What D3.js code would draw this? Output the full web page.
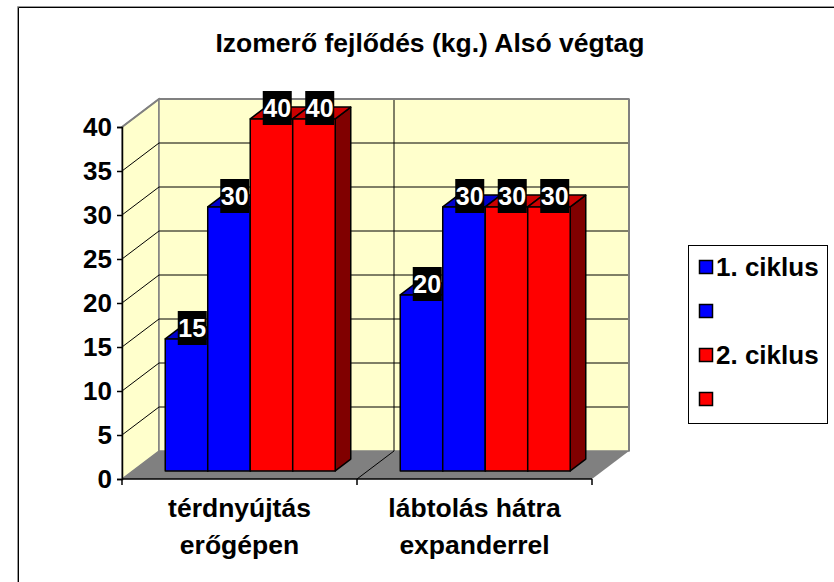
<!DOCTYPE html>
<html>
<head>
<meta charset="utf-8">
<script src="https://cdn.jsdelivr.net/npm/d3@7"></script>
<style>
  html, body { margin: 0; padding: 0; background: #fff; }
  svg { display: block; }
  text { font-family: "Liberation Sans", Arial, sans-serif; font-weight: bold; }
</style>
</head>
<body>
<svg id="chart" width="834" height="582"></svg>
<script>
// ---- data ----
const title = "Izomerő fejlődés (kg.) Alsó végtag";
const categories = [["térdnyújtás", "erőgépen"], ["lábtolás hátra", "expanderrel"]];
const seriesNames = ["1. ciklus", "", "2. ciklus", ""];
const seriesColors = ["#0000FF", "#0000FF", "#FF0000", "#FF0000"];
const seriesTop = ["#0000CC", "#0000CC", "#CC0000", "#CC0000"];
const seriesSide = ["#000080", "#000080", "#800000", "#800000"];
const values = [
  [15, 20],   // series 1
  [30, 30],   // series 2
  [40, 30],   // series 3
  [40, 30]    // series 4
];
const yTicks = [0, 5, 10, 15, 20, 25, 30, 35, 40];

// ---- layout ----
const svg = d3.select("#chart");
const W = 834, H = 582;
const pLeft = 122, pRight = 592, pBottom = 479, pTop = 127;
const depth = {dx: 37, dy: -28};           // full floor depth
const barZ0 = 0.29, barZ = 0.42;             // bar depth start/size (fraction)

const y = d3.scaleLinear().domain([0, 40]).range([pBottom, pTop]);
const x = d3.scaleBand().domain(d3.range(categories.length)).range([pLeft, pRight]).padding(0);
const xs = d3.scaleBand().domain(d3.range(values.length)).range([0, x.bandwidth()])
  .paddingInner(0).paddingOuter(0.765);

// outer border (top/left only visible)
svg.append("line").attr("x1", 17.5).attr("y1", 6.5).attr("x2", W).attr("y2", 6.5).attr("stroke", "#999").attr("stroke-width", 1);
svg.append("line").attr("x1", 17.5).attr("y1", 6.5).attr("x2", 17.5).attr("y2", H).attr("stroke", "#999").attr("stroke-width", 1);
svg.append("line").attr("x1", 18.5).attr("y1", 7.5).attr("x2", W).attr("y2", 7.5).attr("stroke", "#000").attr("stroke-width", 1);
svg.append("line").attr("x1", 18.5).attr("y1", 7.5).attr("x2", 18.5).attr("y2", H).attr("stroke", "#000").attr("stroke-width", 1);

// title
svg.append("text").attr("x", 430).attr("y", 52).attr("text-anchor", "middle")
  .attr("font-size", 26.5).attr("fill", "#000").text(title);

const wall = "#FFFFCC", floorCol = "#808080";
const bx0 = pLeft + depth.dx, bx1 = pRight + depth.dx;
const by0 = y(0) + depth.dy, by1 = y(40) + depth.dy;

// side wall
svg.append("path")
  .attr("d", `M${pLeft},${y(0)}L${pLeft},${y(40)}L${bx0},${by1}L${bx0},${by0}Z`)
  .attr("fill", wall).attr("stroke", "#808080").attr("stroke-width", 1.5);
// back wall
svg.append("rect").attr("x", bx0).attr("y", by1).attr("width", bx1 - bx0).attr("height", by0 - by1)
  .attr("fill", wall).attr("stroke", "#808080").attr("stroke-width", 1.5);

// gridlines
const grid = svg.append("g").attr("stroke", "#000").attr("stroke-width", 1);
yTicks.filter(t => t > 0 && t < 40).forEach(t => {
  grid.append("line").attr("x1", pLeft).attr("y1", y(t)).attr("x2", bx0).attr("y2", y(t) + depth.dy);
  grid.append("line").attr("x1", bx0).attr("y1", y(t) + depth.dy).attr("x2", bx1).attr("y2", y(t) + depth.dy);
});
// vertical category divider on back wall
d3.range(1, categories.length).forEach(i => {
  const xx = x(i) + depth.dx;
  grid.append("line").attr("x1", xx).attr("y1", by0).attr("x2", xx).attr("y2", by1);
});
// top edges gray
svg.append("line").attr("x1", pLeft).attr("y1", y(40)).attr("x2", bx0).attr("y2", by1).attr("stroke", "#808080").attr("stroke-width", 2);
svg.append("line").attr("x1", bx0).attr("y1", by1).attr("x2", bx1).attr("y2", by1).attr("stroke", "#808080").attr("stroke-width", 2);
svg.append("line").attr("x1", bx1).attr("y1", by1).attr("x2", bx1).attr("y2", by0).attr("stroke", "#808080").attr("stroke-width", 2);

// floor
svg.append("path")
  .attr("d", `M${pLeft},${y(0)}L${pRight},${y(0)}L${bx1},${by0}L${bx0},${by0}Z`)
  .attr("fill", floorCol).attr("stroke", "none");
d3.range(1, categories.length).forEach(i => {
  svg.append("line").attr("x1", x(i)).attr("y1", y(0)).attr("x2", x(i) + depth.dx).attr("y2", by0)
    .attr("stroke", "#000").attr("stroke-width", 1);
});

// axes
const yAxisG = svg.append("g").attr("transform", `translate(${pLeft},0)`)
  .call(d3.axisLeft(y).tickValues(yTicks).tickSize(5).tickPadding(5));
yAxisG.select(".domain").attr("stroke", "#000").attr("stroke-width", 1.5);
yAxisG.selectAll(".tick line").attr("stroke", "#000").attr("stroke-width", 1.5);
yAxisG.selectAll(".tick text").attr("font-size", 26).attr("font-family", "Liberation Sans, Arial, sans-serif")
  .attr("font-weight", "bold").attr("fill", "#000");

const xAxisG = svg.append("g").attr("transform", `translate(0,${pBottom})`);
xAxisG.append("line").attr("x1", pLeft).attr("x2", pRight).attr("y1", 0).attr("y2", 0).attr("stroke", "#000").attr("stroke-width", 1.5);
d3.range(categories.length + 1).forEach(i => {
  const xx = i < categories.length ? x(i) : pRight;
  xAxisG.append("line").attr("x1", xx).attr("x2", xx).attr("y1", 0).attr("y2", 6).attr("stroke", "#000").attr("stroke-width", 1.5);
});
categories.forEach((lines, i) => {
  const t = svg.append("text").attr("text-anchor", "middle").attr("font-size", 26.5).attr("fill", "#000");
  lines.forEach((ln, k) => {
    t.append("tspan").attr("x", x(i) + x.bandwidth() / 2).attr("y", 517 + k * 37).text(ln);
  });
});

// bars
const bdx0 = depth.dx * barZ0, bdy0 = depth.dy * barZ0;
const bdx = depth.dx * barZ, bdy = depth.dy * barZ;
const bars = svg.append("g").attr("stroke", "#000").attr("stroke-width", 1.5).attr("stroke-linejoin", "round");
const labels = [];
categories.forEach((c, i) => {
  values.forEach((vals, s) => {
    const v = vals[i];
    const x0 = x(i) + xs(s) + bdx0, x1 = x0 + xs.bandwidth();
    const yb = y(0) + bdy0, yt = y(v) + bdy0;
    const g = bars.append("g");
    g.append("path").attr("d", `M${x1},${yb}L${x1},${yt}L${x1 + bdx},${yt + bdy}L${x1 + bdx},${yb + bdy}Z`)
      .attr("fill", seriesSide[s]);
    g.append("path").attr("d", `M${x0},${yt}L${x1},${yt}L${x1 + bdx},${yt + bdy}L${x0 + bdx},${yt + bdy}Z`)
      .attr("fill", seriesTop[s]);
    g.append("rect").attr("x", x0).attr("y", yt).attr("width", x1 - x0).attr("height", yb - yt)
      .attr("fill", seriesColors[s]);
    labels.push({v, cx: (x0 + x1) / 2 + bdx / 2 - 2, cy: yt + bdy / 2 - 5});
  });
});

// data labels
const lg = svg.append("g");
labels.forEach(d => {
  lg.append("rect").attr("x", d.cx - 14.5).attr("y", d.cy - 17).attr("width", 29).attr("height", 34).attr("fill", "#000");
  lg.append("text").attr("x", d.cx).attr("y", d.cy + 9).attr("text-anchor", "middle")
    .attr("font-size", 25).attr("fill", "#fff").text(d.v);
});

// legend
const leg = svg.append("g");
leg.append("rect").attr("x", 688.5).attr("y", 245.5).attr("width", 139).attr("height", 178)
  .attr("fill", "#fff").attr("stroke", "#000").attr("stroke-width", 1);
seriesNames.forEach((n, i) => {
  const cy = 267 + i * 44;
  leg.append("rect").attr("x", 699.5).attr("y", cy - 6.5).attr("width", 13).attr("height", 13)
    .attr("fill", seriesColors[i]).attr("stroke", "#000").attr("stroke-width", 1.5);
  leg.append("text").attr("x", 716).attr("y", cy + 9).attr("font-size", 26).attr("fill", "#000").text(n);
});
</script>
</body>
</html>
